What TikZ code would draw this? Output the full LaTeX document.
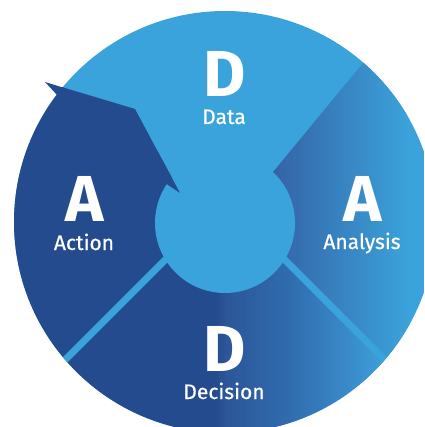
\documentclass[tikz,border=0pt]{standalone}
\usepackage{fontspec}
\setmainfont{Fira Sans}
\newfontfamily\capfont{Fira Sans}[FakeBold=0.5]
\usepackage{tikz}
\definecolor{ddLight}{RGB}{59,163,219}
\definecolor{ddDark}{RGB}{36,75,142}
\definecolor{ddMid}{RGB}{52,97,165}
\definecolor{ddDeep}{RGB}{44,86,152}
\definecolor{ddSteel}{RGB}{47,108,174}
\definecolor{ddSky}{RGB}{58,136,200}
\pgfdeclarehorizontalshading{decisionfade}{100bp}{color(0bp)=(ddDark); color(25bp)=(ddDark); color(28bp)=(ddDeep); color(46bp)=(ddSteel); color(62bp)=(ddSky); color(75bp)=(ddLight); color(100bp)=(ddLight)}

\begin{document}
\begin{tikzpicture}[x=1pt,y=-1pt]
\tikzstyle{letter}=[text=white, inner sep=0pt, anchor=base, font=\fontsize{65}{65}\selectfont\bfseries]
\tikzstyle{caption}=[text=white, inner sep=0pt, anchor=base, font=\fontsize{21}{21}\selectfont\capfont]
\tikzstyle{gap}=[ddLight, line width=7pt]
\useasboundingbox (0,0) rectangle (424,427);

\begin{scope}
	\clip (225,222) circle (211pt);
	\fill[ddLight] (0,0) rectangle (424,427);
	% analysis quarter
	\begin{scope}
		\clip (225,200) -- (273,172) -- (453,-46) -- (520,-46) -- (520,495) -- cycle;
		\shade[left color=ddMid, right color=ddLight] (268,-50) rectangle (410,500);
	\end{scope}
	% decision quarter
	\begin{scope}
		\clip (225,200) -- (520,495) -- (520,520) -- (-70,520) -- (-70,495) -- cycle;
		\fill[ddDark] (-70,150) rectangle (215,520);
		\shade[shading=decisionfade] (215,150) rectangle (390,520);
	\end{scope}
	% action quarter, arrow edge towards the hub
	\fill[ddDark] (225,200) -- (-70,495) -- (-70,60) -- (45,82) -- (135,109) -- (180,193) -- (165,183) -- cycle;
	\draw[gap] (225,200) -- (520,495) (225,200) -- (-70,495);
\end{scope}

% hub and arrow tips
\fill[ddLight] (225,223) circle (70pt);
\fill[ddDark] (45,82) -- (58,96) -- (66,88.5) -- cycle;
\fill[ddDark] (180,193) -- (165,183) -- (158,152) -- cycle;

\node[letter] (dataL) at (225,97) {D};
\node[caption] (dataT) at (224,124) {Data};
\node[letter] (actL) at (85,222) {A};
\node[caption] (actT) at (84,250) {Action};
\node[letter] (anaL) at (363,222) {A};
\node[caption] (anaT) at (362,249) {Analysis};
\node[letter] (decL) at (225,371) {D};
\node[caption] (decT) at (224,399) {Decision};
\end{tikzpicture}
\end{document}
